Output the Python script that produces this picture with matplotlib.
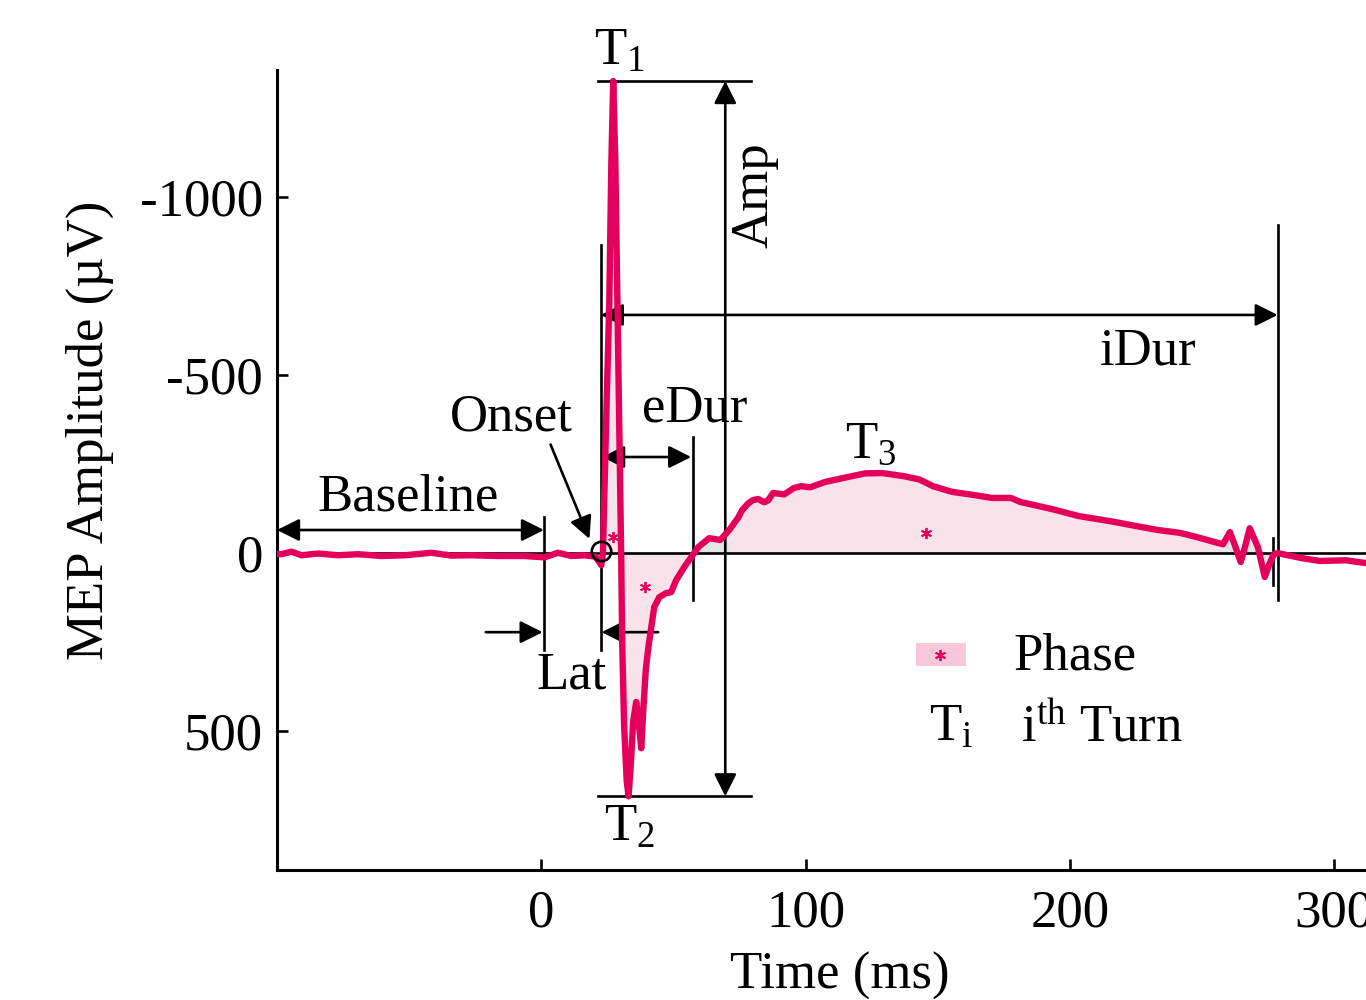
import numpy as np
import matplotlib
matplotlib.use("Agg")
import matplotlib.pyplot as plt
from matplotlib.patches import Rectangle

# ---------------- data ----------------
time_ms = [-100, -98.3, -94.5, -90.7, -84.4, -76.9, -69.3, -60.5, -51.7, -41.6,
           -34, -26.5, -16.4, -6.3, 1.2, 6.3, 11.3, 16.4, 20.5, 22.7,
           23.3, 23.8, 24.8, 25.7, 26.5, 27.2, 28.0, 28.8, 29.6, 30.2,
           30.6, 31.3, 32.3, 33.0, 33.8, 34.8, 35.9, 36.8, 37.8, 38.5,
           39.5, 40.5, 42.7, 44.6, 47.3, 49.1, 51, 54.1, 57.4, 59.4,
           63.5, 67.7, 71.1, 74.5, 76, 78.3, 80.1, 82, 84.3, 85.8,
           87.7, 91.9, 95.6, 98.3, 101.7, 107.4, 114.2, 122.5, 128.9, 137.2,
           143, 148.2, 155.4, 162.2, 170.5, 177.7, 181.1, 193.6, 203.4, 216.6,
           226.5, 233.3, 241.6, 248, 256.3, 257.9, 260.5, 262.5, 264.6, 266.3,
           268, 271.1, 273.7, 275.5, 277.1, 278.6, 287.7, 294.5, 304.3, 312]
amplitude_uv = [2, 3, -4, 6, 1, 6, 3, 8, 6, -1,
                7, 6, 8, 8, 12, -1, 8, 6, 10, 34,
                0, -150, -450, -700, -1100, -1326, -1100, -700, -300, 0,
                250, 480, 640, 683, 600, 470, 418, 470, 548, 450,
                330, 264, 152, 124, 112, 110, 76, 39, 4, -17,
                -42, -37, -65, -100, -121, -140, -149, -152, -143, -148,
                -169, -165, -183, -188, -185, -200, -211, -224, -225, -216,
                -207, -188, -172, -165, -155, -155, -144, -123, -104, -88,
                -74, -65, -57, -45, -28, -25, -59, -20, 25, -20,
                -70, -17, 67, 30, 3, 0, 14, 22, 20, 28]

x_ticks = [0, 100, 200, 300]
y_ticks = [-1000, -500, 0, 500]

# key time / amplitude markers of the annotation scheme
t_baseline_end = 1
t_onset = 22.5
t_edur_end = 57.2
t_amp = 69.6
t_idur_end = 278.6
t_end_mark = 276.9
amp_t1 = -1326
amp_t2 = 683

# ---------------- style ----------------
plt.rcParams['font.family'] = ['Liberation Serif', 'DejaVu Serif']
plt.rcParams['mathtext.fontset'] = 'custom'
plt.rcParams['mathtext.rm'] = 'Liberation Serif'
plt.rcParams['mathtext.it'] = 'Liberation Serif:italic'
plt.rcParams['axes.unicode_minus'] = False

SIG = '#e4005a'
FILL = '#f9e2ea'
GREY = '#e6e6e6'
LEG = '#f8c8da'
FS = 38
LW = 1.9

fig = plt.figure(figsize=(13.66, 10), dpi=100)
ax = fig.add_axes([277 / 1366, 0.13, 1 - 277 / 1366, 0.80])

t = np.array(time_ms)
a = np.array(amplitude_uv)

# phase fills
ax.fill_between(t, a, 0, where=(t >= 23.3) & (t <= 57.4), color=FILL, lw=0, zorder=1)
ax.fill_between(t, a, 0, where=(t >= 57.4) & (t <= 71.1), color=GREY, lw=0, zorder=1)
ax.fill_between(t, a, 0, where=(t >= 71.1) & (t <= 257.9), color=FILL, lw=0, zorder=1)
ax.fill_between(t, a, 0, where=(t >= 257.9) & (t <= 278.6), color=GREY, lw=0, zorder=1)

# zero line
ax.axhline(0, color='black', lw=LW, zorder=2)

# vertical reference lines
ax.plot([t_baseline_end] * 2, [-101, 272], color='black', lw=LW, zorder=2)
ax.plot([t_onset] * 2, [-865, 272], color='black', lw=LW, zorder=2)
ax.plot([t_edur_end] * 2, [-326, 132], color='black', lw=LW, zorder=2)
ax.plot([t_idur_end] * 2, [-921, 132], color='black', lw=LW, zorder=2)
ax.plot([t_end_mark] * 2, [-42, 90], color='black', lw=LW, zorder=2)

# T1 / T2 horizontal lines
ax.plot([21.5, 79.4], [amp_t1] * 2, color='black', lw=LW, zorder=2)
ax.plot([21.5, 79.4], [amp_t2] * 2, color='black', lw=LW, zorder=2)


def arrow(x0, y0, x1, y1, style):
    ax.annotate('', xy=(x1, y1), xytext=(x0, y0),
                arrowprops=dict(arrowstyle=style, color='black', lw=LW,
                                shrinkA=0, shrinkB=0, mutation_scale=34),
                zorder=2, annotation_clip=False)


arrow(-100, -65, t_baseline_end, -65, '<|-|>')          # baseline
arrow(-21, 222, t_baseline_end - 0.5, 222, '-|>')         # lat left
arrow(44.2, 222, t_onset + 0.3, 222, '-|>')              # lat right
arrow(t_onset + 0.5, -270, t_edur_end - 0.5, -270, '<|-|>')  # eDur
arrow(t_onset, -669, t_idur_end, -669, '<|-|>')         # iDur
arrow(t_amp, amp_t1, t_amp, amp_t2, '<|-|>')             # Amp
arrow(3.5, -305, 18.2, -40, '-|>')                       # onset pointer

# signal
ax.plot(t, a, color=SIG, lw=4.6, solid_joinstyle='round', solid_capstyle='round', zorder=4)

# onset circle
ax.plot([t_onset], [-6], marker='o', ms=14, mfc='none', mec='black', mew=1.9, zorder=5)

# phase asterisks
ax.plot([27.2, 39.3, 145.5], [-45, 96, -56], ls='none', marker=(6, 2, 0),
        ms=8, mew=1.3, color=SIG, zorder=5)

# labels
ax.text(29.5, -1407, r'T$_\mathrm{1}$', fontsize=FS, ha='center', va='center')
ax.text(33.3, 772, r'T$_\mathrm{2}$', fontsize=FS, ha='center', va='center')
ax.text(124.8, -303, r'T$_\mathrm{3}$', fontsize=FS, ha='center', va='center')
ax.text(80.5, -1006, 'Amp', fontsize=FS, ha='center', va='center', rotation=90)
ax.text(229.5, -565, 'iDur', fontsize=FS, ha='center', va='center')
ax.text(58.2, -405, 'eDur', fontsize=FS, ha='center', va='center')
ax.text(-11.3, -380, 'Onset', fontsize=FS, ha='center', va='center')
ax.text(-50.5, -155, 'Baseline', fontsize=FS, ha='center', va='center')
ax.text(11.3, 345, 'Lat', fontsize=FS, ha='center', va='center')

# legend
ax.add_patch(Rectangle((141.6, 253), 18.9, 65, facecolor=LEG, edgecolor='none', zorder=3))
ax.plot([151], [287], marker=(6, 2, 0), ms=8, mew=1.3, color=SIG, zorder=5)
ax.text(178.8, 290, 'Phase', fontsize=FS, ha='left', va='center')
ax.text(155, 490, r'T$_\mathrm{i}$', fontsize=FS, ha='center', va='center')
ax.text(181.5, 490, r'i$^\mathrm{th}$ Turn', fontsize=FS, ha='left', va='center')

# axes
ax.set_xlim(-100, 312)
ax.set_ylim(890, -1357)
ax.set_xticks(x_ticks)
ax.set_yticks(y_ticks)
ax.set_xticklabels([str(v) for v in x_ticks])
ax.set_yticklabels([str(v) for v in y_ticks])
for s in ['top', 'right']:
    ax.spines[s].set_visible(False)
for s in ['left', 'bottom']:
    ax.spines[s].set_linewidth(2.2)
ax.tick_params(direction='in', length=8, width=1.9, labelsize=FS)
ax.tick_params(axis='x', pad=14)
ax.tick_params(axis='y', pad=10)
ax.set_xlabel('Time (ms)', fontsize=FS)
ax.set_ylabel('MEP Amplitude (\u00b5V)', fontsize=FS)
ax.xaxis.set_label_coords(0.517, -0.102)
ax.yaxis.set_label_coords(-0.150, 0.55)

fig.savefig('out.png', dpi=100)
